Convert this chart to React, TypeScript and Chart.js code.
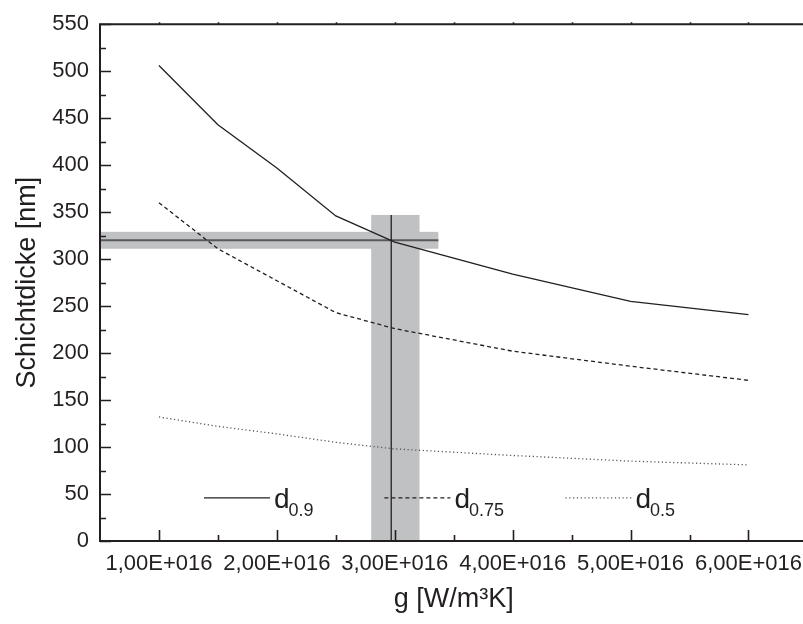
import React, { useEffect, useRef } from "react";
import { Chart, registerables } from "chart.js";

Chart.register(...registerables);

// ---- data ----
const G_VALUES = [1.0e16, 1.5e16, 2.0e16, 2.5e16, 3.0e16, 4.0e16, 5.0e16, 6.0e16];
const D_09 = [506, 443, 397, 346, 318, 284, 255, 241];
const D_075 = [360, 311, 277, 243, 226, 202, 186, 171];
const D_05 = [132, 122, 114, 105, 98, 91, 85, 81];

const X_TICKS = [1e16, 2e16, 3e16, 4e16, 5e16, 6e16];
const X_TICK_LABELS = ["1,00E+016", "2,00E+016", "3,00E+016", "4,00E+016", "5,00E+016", "6,00E+016"];
const X_MINOR = [1.5e16, 2.5e16, 3.5e16, 4.5e16, 5.5e16];
const Y_TICKS = [0, 50, 100, 150, 200, 250, 300, 350, 400, 450, 500, 550];
const Y_MINOR = [25, 75, 125, 175, 225, 275, 325, 375, 425, 475, 525];

// crosshair marking (g, d)
const CROSS_POINT = [2.97e16, 320];
const H_BAND_G = [0.5e16, 3.37e16];
const H_BAND_D = [311, 329];
const V_BAND_G = [2.8e16, 3.21e16];
const V_BAND_D = [0, 347];

const LEGEND_LABELS = ["d", "d", "d"];
const LEGEND_SUBS = ["0.9", "0.75", "0.5"];

const FONT = "'Liberation Sans', Arial, sans-serif";
const INK = "#231f20";

const decorPlugin = {
  id: "decor",
  beforeDatasetsDraw(chart: any) {
    const { ctx, scales } = chart;
    const x = scales.x, y = scales.y;
    ctx.save();
    ctx.fillStyle = "#c0c1c3";
    const vx0 = x.getPixelForValue(V_BAND_G[0]);
    const vx1 = x.getPixelForValue(V_BAND_G[1]);
    const vy0 = y.getPixelForValue(V_BAND_D[1]);
    const vy1 = y.getPixelForValue(V_BAND_D[0]);
    ctx.fillRect(vx0, vy0, vx1 - vx0, vy1 - vy0);
    const hx0 = x.getPixelForValue(H_BAND_G[0]);
    const hx1 = x.getPixelForValue(H_BAND_G[1]);
    const hy0 = y.getPixelForValue(H_BAND_D[1]);
    const hy1 = y.getPixelForValue(H_BAND_D[0]);
    ctx.fillRect(hx0, hy0, hx1 - hx0, hy1 - hy0);
    const cy = y.getPixelForValue(CROSS_POINT[1]);
    ctx.strokeStyle = "#58595b";
    ctx.lineWidth = 2;
    ctx.beginPath();
    ctx.moveTo(hx0, cy);
    ctx.lineTo(hx1, cy);
    ctx.stroke();
    const cx = x.getPixelForValue(CROSS_POINT[0]);
    ctx.strokeStyle = INK;
    ctx.lineWidth = 1.3;
    ctx.beginPath();
    ctx.moveTo(cx, vy0);
    ctx.lineTo(cx, vy1);
    ctx.stroke();
    ctx.restore();
  },
  afterDraw(chart: any) {
    const { ctx, chartArea, scales } = chart;
    const x = scales.x, y = scales.y;
    const { left, right, top, bottom } = chartArea;
    ctx.save();
    ctx.strokeStyle = INK;
    ctx.lineWidth = 2;
    // frame: left, top, bottom (right edge lies outside the picture)
    ctx.beginPath();
    ctx.moveTo(right + 2, top);
    ctx.lineTo(left, top);
    ctx.lineTo(left, bottom);
    ctx.lineTo(right + 2, bottom);
    ctx.stroke();
    ctx.lineWidth = 1.6;
    ctx.beginPath();
    X_TICKS.forEach((v) => {
      const px = Math.round(x.getPixelForValue(v)) + 0.5;
      ctx.moveTo(px, bottom);
      ctx.lineTo(px, bottom - 11);
      ctx.moveTo(px, top);
      ctx.lineTo(px, top - 2);
    });
    X_MINOR.forEach((v) => {
      const px = Math.round(x.getPixelForValue(v)) + 0.5;
      ctx.moveTo(px, bottom);
      ctx.lineTo(px, bottom - 6);
      ctx.moveTo(px, top);
      ctx.lineTo(px, top - 2);
    });
    Y_TICKS.forEach((v) => {
      const py = Math.round(y.getPixelForValue(v)) + 0.5;
      ctx.moveTo(left, py);
      ctx.lineTo(left + 11, py);
    });
    Y_MINOR.forEach((v) => {
      const py = Math.round(y.getPixelForValue(v)) + 0.5;
      ctx.moveTo(left, py);
      ctx.lineTo(left + 6, py);
    });
    ctx.stroke();

    // legend
    const w = right - left;
    const ly = y.getPixelForValue(46);
    const starts = [0.147, 0.402, 0.658];
    const dashes = [[], [4, 3], [1.2, 2.6]];
    const colors = [INK, INK, "#555"];
    starts.forEach((f, i) => {
      const sx = left + f * w;
      ctx.strokeStyle = colors[i];
      ctx.lineWidth = 1.3;
      ctx.setLineDash(dashes[i]);
      ctx.beginPath();
      ctx.moveTo(sx, ly);
      ctx.lineTo(sx + 66, ly);
      ctx.stroke();
      ctx.setLineDash([]);
      ctx.fillStyle = INK;
      ctx.textBaseline = "alphabetic";
      ctx.textAlign = "left";
      ctx.font = `28px ${FONT}`;
      const tx = sx + 70;
      ctx.fillText(LEGEND_LABELS[i], tx, ly + 10);
      const dw = ctx.measureText(LEGEND_LABELS[i]).width;
      ctx.font = `18px ${FONT}`;
      ctx.fillText(LEGEND_SUBS[i], tx + dw - 1, ly + 18);
    });
    ctx.restore();
  },
};

export default function App() {
  const ref = useRef<HTMLCanvasElement | null>(null);
  useEffect(() => {
    if (!ref.current) return;
    const mk = (vals: number[]) => G_VALUES.map((g, i) => ({ x: g, y: vals[i] }));
    const chart = new Chart(ref.current, {
      type: "line",
      data: {
        datasets: [
          { label: "d0.9", data: mk(D_09), borderColor: INK, borderWidth: 1.3, pointRadius: 0, tension: 0 },
          { label: "d0.75", data: mk(D_075), borderColor: INK, borderWidth: 1.3, borderDash: [4, 3], pointRadius: 0, tension: 0 },
          { label: "d0.5", data: mk(D_05), borderColor: "#555", borderWidth: 1.3, borderDash: [1.2, 2.6], pointRadius: 0, tension: 0 },
        ],
      },
      options: {
        animation: false,
        responsive: false,
        devicePixelRatio: 1,
        layout: { padding: { top: 17, left: 0, right: 0, bottom: 0 } },
        plugins: { legend: { display: false }, tooltip: { enabled: false } },
        scales: {
          x: {
            type: "linear",
            min: 0.5e16,
            max: 6.5e16,
            afterBuildTicks: (s: any) => {
              s.ticks = X_TICKS.map((v) => ({ value: v }));
            },
            afterFit: (s: any) => {
              s.height = 83;
            },
            grid: { display: false, drawTicks: false },
            border: { display: false },
            ticks: {
              autoSkip: false,
              maxRotation: 0,
              padding: 10,
              color: INK,
              font: { family: FONT, size: 22 },
              callback: (_v: any, i: number) => X_TICK_LABELS[i],
            },
            title: {
              display: true,
              text: "g [W/m³K]",
              color: INK,
              font: { family: FONT, size: 27 },
              padding: { top: 0, bottom: 8 },
            },
          },
          y: {
            type: "linear",
            min: 0,
            max: 550,
            afterBuildTicks: (s: any) => {
              s.ticks = Y_TICKS.map((v) => ({ value: v }));
            },
            afterFit: (s: any) => {
              s.width = 100;
            },
            grid: { display: false, drawTicks: false },
            border: { display: false },
            ticks: {
              padding: 11,
              color: INK,
              font: { family: FONT, size: 22 },
              callback: (v: any) => String(v),
            },
            title: {
              display: true,
              text: "Schichtdicke [nm]",
              color: INK,
              font: { family: FONT, size: 27 },
              padding: { top: 11, bottom: 0 },
            },
          },
        },
      },
      plugins: [decorPlugin],
    });
    return () => chart.destroy();
  }, []);
  return (
    <div style={{ position: "absolute", left: 0, top: 0, width: 803, height: 624, overflow: "hidden", background: "#fff" }}>
      <canvas ref={ref} width={812} height={624} style={{ display: "block" }} />
    </div>
  );
}
